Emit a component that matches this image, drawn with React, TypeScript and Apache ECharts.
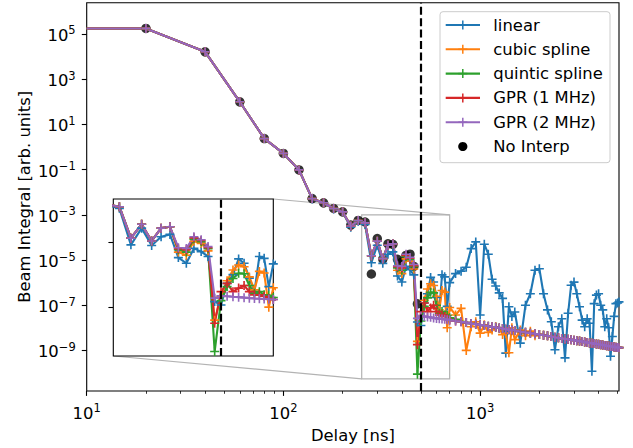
import React, { useEffect, useRef } from "react";
import * as echarts from "echarts";

// ---- data (delay in ns, beam integral in arb. units) ----
const delays = [
  10, 20, 40, 60, 80, 100, 120, 140, 160, 180, 200, 220, 240, 260, 280, 300, 320, 340, 360, 380, 400, 420, 440, 460, 480,
  500, 520, 540, 560, 580, 600, 620, 640, 660, 680, 700,
  750, 800, 850, 900, 950, 1000, 1050, 1100, 1150, 1200, 1250, 1300, 1350, 1400, 1450, 1500,
  1600, 1700, 1800, 1900, 2000, 2100, 2200, 2300, 2400, 2500, 2600, 2700, 2800, 2900, 3000,
  3100, 3200, 3300, 3400, 3500, 3600, 3700, 3800, 3900, 4000, 4100, 4200, 4300, 4400, 4500,
  4600, 4700, 4800, 4900, 5000, 5080,
];

const gpr2MHz = [
  1.76e5, 1.76e5, 1.63e4, 1.0e2, 2.35, 0.52, 9.7e-2, 5.2e-3, 3.4e-3, 1.9e-3, 1.35e-3, 3.2e-4, 5.6e-4, 4.4e-4, 1.55e-5, 6.8e-5,
  1.15e-5, 4.5e-5, 5.2e-5, 5.6e-6, 5.2e-6, 1.8e-5, 1.3e-5, 6.3e-6, 2.6e-8,
  3.3e-8, 3.2e-8, 3.0e-8, 2.9e-8, 2.75e-8, 2.6e-8, 2.5e-8, 2.45e-8, 2.4e-8, 2.3e-8, 2.24e-8,
  2.0e-8, 1.85e-8, 1.7e-8, 1.55e-8, 1.45e-8, 1.35e-8, 1.26e-8, 1.17e-8, 1.1e-8, 1.05e-8, 9.8e-9, 9.3e-9, 8.7e-9, 8.3e-9, 7.9e-9, 7.6e-9,
  6.9e-9, 6.3e-9, 5.8e-9, 5.4e-9, 5.0e-9, 4.7e-9, 4.4e-9, 4.1e-9, 3.8e-9, 3.6e-9, 3.4e-9, 3.2e-9, 3.1e-9, 2.95e-9, 2.8e-9,
  2.7e-9, 2.6e-9, 2.45e-9, 2.35e-9, 2.25e-9, 2.15e-9, 2.1e-9, 2.0e-9, 1.9e-9, 1.85e-9, 1.8e-9, 1.75e-9, 1.65e-9, 1.6e-9, 1.55e-9,
  1.5e-9, 1.48e-9, 1.42e-9, 1.38e-9, 1.35e-9, 1.32e-9,
];

const gpr1MHzHead = [
  1.76e5, 1.76e5, 1.63e4, 1.0e2, 2.35, 0.52, 9.7e-2, 5.2e-3, 3.4e-3, 1.9e-3, 1.35e-3, 3.2e-4, 5.6e-4, 4.4e-4, 1.55e-5, 6.8e-5,
  1.15e-5, 4.5e-5, 5.2e-5, 5.0e-6, 4.5e-6, 1.6e-5, 1.2e-5, 5.6e-6, 1.8e-9,
  5.2e-8, 1.26e-7, 5.2e-8, 7.6e-8, 1.0e-7, 5.2e-8, 3.7e-8, 3.7e-8, 3.2e-8, 2.5e-8, 2.24e-8,
];

const quinticHead = [
  1.76e5, 1.76e5, 1.63e4, 1.0e2, 2.35, 0.52, 9.7e-2, 5.2e-3, 3.4e-3, 1.9e-3, 1.35e-3, 3.2e-4, 5.6e-4, 4.4e-4, 1.55e-5, 6.8e-5,
  1.15e-5, 4.5e-5, 5.2e-5, 4.5e-6, 3.5e-6, 1.4e-5, 1.05e-5, 5.0e-6, 8.9e-11,
  2.0e-8, 8.9e-8, 2.1e-7, 3.7e-7, 3.5e-7, 1.0e-7, 4.4e-8, 5.2e-8, 3.7e-8, 3.5e-8, 2.8e-8,
  2.4e-8, 1.9e-8,
];

const cubicHead = [
  1.76e5, 1.76e5, 1.63e4, 1.0e2, 2.35, 0.52, 9.7e-2, 5.2e-3, 3.4e-3, 1.9e-3, 1.35e-3, 3.2e-4, 5.6e-4, 4.4e-4, 1.55e-5, 6.8e-5,
  1.15e-5, 4.5e-5, 5.2e-5, 3.5e-6, 2.5e-6, 1.12e-5, 8.9e-6, 4.0e-6, 2.5e-9,
  3.2e-8, 1.66e-7, 5.2e-7, 8.9e-7, 7.4e-7, 2.5e-7, 6.3e-8, 4.5e-7, 3.8e-7, 1.0e-8, 7.9e-8,
  3.7e-8, 7.2e-8, 1.0e-9, 1.12e-8, 1.86e-8, 5.8e-9, 1.35e-8, 6.3e-9, 8.1e-9, 1.12e-8, 9.5e-9, 5.0e-9, 5.8e-9, 7.9e-10, 1.0e-8, 3.0e-9,
  7.9e-9, 4.5e-9, 7.1e-9, 4.5e-9,
];

const linear = [
  1.76e5, 1.76e5, 1.63e4, 1.0e2, 2.35, 0.52, 9.7e-2, 5.0e-3, 3.3e-3, 1.8e-3, 1.3e-3, 2.8e-4, 5.2e-4, 3.7e-4, 7.6e-6, 4.5e-5,
  7.1e-6, 1.8e-5, 2.3e-5, 1.95e-6, 1.07e-6, 5.2e-6, 3.7e-6, 2.2e-6, 1.8e-8,
  1.26e-8, 1.26e-7, 3.2e-7, 1.7e-6, 1.07e-6, 2.2e-7, 5.2e-8, 2.2e-6, 1.8e-6, 8.9e-8, 1.0e-6,
  2.5e-6, 3.2e-6, 4.8e-6, 3.2e-5, 6.3e-5, 3.7e-8, 5.0e-5, 1.8e-5, 1.4e-6, 7.1e-7, 3.5e-7, 2.0e-7, 7.6e-10, 8.5e-8, 3.2e-8, 5.0e-8,
  2.1e-9, 1.0e-7, 3.2e-7, 3.5e-6, 4.1e-6, 3.2e-7, 6.2e-8, 1.86e-8, 1.07e-9, 1.12e-8, 2.5e-8, 4.7e-10, 4.4e-8, 7.6e-7, 1.05e-6,
  3.2e-7, 8.5e-8, 2.2e-8, 1.12e-8, 2.5e-8, 1.6e-8, 1.2e-10, 1.17e-7, 2.8e-7, 3.2e-7, 1.0e-7, 6.2e-8, 1.12e-8, 2.5e-8, 1.0e-8,
  5.5e-10, 4.1e-9, 3.2e-8, 1.17e-7, 1.26e-7, 1.4e-7,
];

// curves that have merged into the GPR (2 MHz) curve continue on it
const gpr1MHz = [...gpr1MHzHead, ...gpr2MHz.slice(gpr1MHzHead.length)];
const quinticSpline = [...quinticHead, ...gpr2MHz.slice(quinticHead.length)];
const cubicSpline = [...cubicHead, ...gpr2MHz.slice(cubicHead.length)];

const noInterpDelays = [20, 40, 60, 80, 100, 120, 140, 160, 180, 200, 220, 240, 260, 280, 300, 320, 340, 360, 380, 400, 420, 440, 460, 480];
const noInterp = [
  1.76e5, 1.63e4, 1.0e2, 2.35, 0.52, 9.7e-2, 5.2e-3, 3.4e-3, 1.9e-3, 1.35e-3, 3.5e-4, 5.6e-4, 4.8e-4, 2.4e-6, 8.9e-5, 1.1e-5,
  5.2e-5, 4.9e-5, 1.07e-5, 8.1e-6, 1.6e-5, 1.8e-5, 5.2e-6, 1.15e-7,
];

const xMajorTicks = [10, 100, 1000];
const xMinorTicks = [20, 30, 40, 50, 60, 70, 80, 90, 200, 300, 400, 500, 600, 700, 800, 900, 2000, 3000, 4000, 5000];
const yMajorTicks = [1e-9, 1e-7, 1e-5, 1e-3, 1e-1, 1e1, 1e3, 1e5];
const insetYTicks = [1e-8, 1e-5];
const cutoffDelay = 500;
const insetX = [250, 700];
const insetY = [5.5e-11, 1e-3];

const legendNames = ["linear", "cubic spline", "quintic spline", "GPR (1 MHz)", "GPR (2 MHz)", "No Interp"];

// ---- styling ----
const FONT = "DejaVu Sans";
const FS = 16.4;
const COLORS = ["#1f77b4", "#ff7f0e", "#2ca02c", "#d62728", "#9467bd"];
const PLUS = "path://M4.1,0H5.9V4.1H10V5.9H5.9V10H4.1V5.9H0V4.1H4.1Z";

const MAIN = { left: 86.7, top: 2.7, width: 532.3, height: 392.3 };
const INSET = { left: 113.3, top: 199, width: 160, height: 157 };

const expOf = (v: number) => Math.round(Math.log10(v));
const supRich = (v: number) => {
  const e = expOf(v);
  return `{b|10}{s|${e < 0 ? "\u2212" + -e : e}}`;
};
const rich = {
  b: { fontFamily: FONT, fontSize: FS, color: "#000", padding: [3, 0, 0, 0] },
  s: { fontFamily: FONT, fontSize: 11.5, color: "#000", verticalAlign: "top" },
};

function lineSeries(name: string, ys: number[], color: string, xi: number, yi: number, withMark: boolean) {
  const s: any = {
    type: "line",
    name,
    xAxisIndex: xi,
    yAxisIndex: yi,
    data: delays.map((x, i) => (i === 0 ? { value: [x, ys[i]], symbol: "none" } : [x, ys[i]])),
    symbol: PLUS,
    symbolSize: 9,
    showSymbol: true,
    lineStyle: { color, width: 2.1 },
    itemStyle: { color, borderWidth: 0 },
    clip: true,
    silent: true,
    animation: false,
  };
  if (withMark) {
    s.markLine = {
      silent: true,
      symbol: ["none", "none"],
      label: { show: false },
      lineStyle: { color: "#000", width: 2.2, type: [8, 3.4] },
      data: [{ xAxis: cutoffDelay }],
      animation: false,
    };
  }
  return s;
}

function dotSeries(xi: number, yi: number) {
  return {
    type: "scatter",
    name: "No Interp",
    xAxisIndex: xi,
    yAxisIndex: yi,
    data: noInterpDelays.map((x, i) => [x, noInterp[i]]),
    symbol: "circle",
    symbolSize: 9.5,
    itemStyle: { color: "#000" },
    clip: true,
    silent: true,
    animation: false,
  };
}

function legendGraphic() {
  const x0 = 440, y0 = 11.7, w = 170, h = 151;
  const els: any[] = [
    {
      type: "rect",
      shape: { x: x0, y: y0, width: w, height: h, r: 3 },
      style: { fill: "rgba(255,255,255,0.8)", stroke: "#cccccc", lineWidth: 1 },
      z: 100,
    },
  ];
  legendNames.forEach((name, i) => {
    const cy = 25 + i * 24.3;
    const cx = 462.8;
    if (i < 5) {
      const c = COLORS[i];
      els.push({ type: "line", shape: { x1: 445.7, y1: cy, x2: 480, y2: cy }, style: { stroke: c, lineWidth: 2.1 }, z: 101 });
      els.push({ type: "line", shape: { x1: cx, y1: cy - 4.5, x2: cx, y2: cy + 4.5 }, style: { stroke: c, lineWidth: 1.5 }, z: 101 });
      els.push({ type: "line", shape: { x1: cx - 4.5, y1: cy, x2: cx + 4.5, y2: cy }, style: { stroke: c, lineWidth: 1.5 }, z: 101 });
    } else {
      els.push({ type: "circle", shape: { cx, cy, r: 4.6 }, style: { fill: "#000" }, z: 101 });
    }
    els.push({
      type: "text",
      x: 493.3,
      y: cy,
      style: { text: name, fontFamily: FONT, fontSize: FS, fill: "#000", verticalAlign: "middle", align: "left" },
      z: 101,
    });
  });
  return els;
}

const seriesNames = ["linear", "cubic spline", "quintic spline", "GPR (1 MHz)", "GPR (2 MHz)"];
const seriesValues = [linear, cubicSpline, quinticSpline, gpr1MHz, gpr2MHz];

function buildOption() {
  const series: any[] = [dotSeries(0, 0), dotSeries(2, 1)];
  seriesNames.forEach((n, i) => {
    const last = i === seriesNames.length - 1;
    series.push(lineSeries(n, seriesValues[i], COLORS[i], 0, 0, last));
    series.push(lineSeries(n, seriesValues[i], COLORS[i], 2, 1, last));
  });

  const tickStyle = { color: "#000", width: 1.1 };
  return {
    animation: false,
    backgroundColor: "#fff",
    grid: [
      { ...MAIN, show: true, borderColor: "#000", borderWidth: 1.1, backgroundColor: "transparent", containLabel: false },
      { ...INSET, show: true, borderColor: "#000", borderWidth: 1.1, backgroundColor: "#fff", containLabel: false, z: 3 },
    ],
    xAxis: [
      {
        type: "log",
        gridIndex: 0,
        position: "bottom",
        min: 10,
        max: 5080,
        axisLine: { show: false },
        splitLine: { show: false },
        axisTick: { show: true, length: 4.9, lineStyle: tickStyle, customValues: xMajorTicks },
        axisLabel: { customValues: xMajorTicks, formatter: supRich, rich, margin: 11 },
        name: "Delay [ns]",
        nameLocation: "middle",
        nameGap: 36,
        nameMoveOverlap: false,
        nameTextStyle: { fontFamily: FONT, fontSize: FS, color: "#000" },
      },
      {
        type: "log",
        gridIndex: 0,
        position: "bottom",
        offset: 0,
        min: 10,
        max: 5080,
        axisLine: { show: false },
        splitLine: { show: false },
        axisTick: { show: true, length: 2.8, lineStyle: { color: "#000", width: 0.8 }, customValues: xMinorTicks },
        axisLabel: { show: false },
      },
      {
        type: "log",
        gridIndex: 1,
        position: "bottom",
        min: insetX[0],
        max: insetX[1],
        axisLine: { show: false },
        splitLine: { show: false },
        axisTick: { show: false },
        axisLabel: { show: false },
      },
    ],
    yAxis: [
      {
        type: "log",
        gridIndex: 0,
        position: "left",
        min: 1.6e-11,
        max: 2.42e6,
        axisLine: { show: false },
        splitLine: { show: false },
        axisTick: { show: true, length: 4.9, lineStyle: tickStyle, customValues: yMajorTicks },
        axisLabel: { customValues: yMajorTicks, formatter: supRich, rich, margin: 11 },
        name: "Beam Integral [arb. units]",
        nameLocation: "middle",
        nameRotate: 90,
        nameGap: 54,
        nameMoveOverlap: false,
        nameTextStyle: { fontFamily: FONT, fontSize: FS, color: "#000" },
      },
      {
        type: "log",
        gridIndex: 1,
        position: "left",
        min: insetY[0],
        max: insetY[1],
        axisLine: { show: false },
        splitLine: { show: false },
        axisTick: { show: true, length: 4.9, lineStyle: tickStyle, customValues: insetYTicks },
        axisLabel: { show: false },
      },
    ],
    series,
    graphic: legendGraphic(),
  };
}

export default function App() {
  const ref = useRef<HTMLDivElement>(null);
  useEffect(() => {
    if (!ref.current) return;
    const chart = echarts.init(ref.current, null, { renderer: "svg" });
    const option = buildOption();
    chart.setOption(option as any);

    // zoom-region rectangle and connector lines (mark_inset)
    const rTL = chart.convertToPixel({ seriesIndex: 0 }, [insetX[0], insetY[1]]) as number[];
    const rBR = chart.convertToPixel({ seriesIndex: 0 }, [insetX[1], insetY[0]]) as number[];
    const iTR = chart.convertToPixel({ seriesIndex: 1 }, [insetX[1], insetY[1]]) as number[];
    const iBL = chart.convertToPixel({ seriesIndex: 1 }, [insetX[0], insetY[0]]) as number[];
    const gray = "#b3b3b3";
    const extra = [
      {
        type: "rect",
        shape: { x: rTL[0], y: rTL[1], width: rBR[0] - rTL[0], height: rBR[1] - rTL[1] },
        style: { fill: "none", stroke: gray, lineWidth: 1.2 },
        z: 1,
      },
      { type: "line", shape: { x1: iTR[0], y1: iTR[1], x2: rBR[0], y2: rTL[1] }, style: { stroke: gray, lineWidth: 1.2 }, z: 1 },
      { type: "line", shape: { x1: iBL[0], y1: iBL[1], x2: rTL[0], y2: rBR[1] }, style: { stroke: gray, lineWidth: 1.2 }, z: 1 },
    ];
    chart.setOption({ graphic: [...legendGraphic(), ...extra] } as any);

    return () => chart.dispose();
  }, []);
  return <div ref={ref} style={{ position: "fixed", left: 0, top: 0, width: 633, height: 448 }} />;
}
